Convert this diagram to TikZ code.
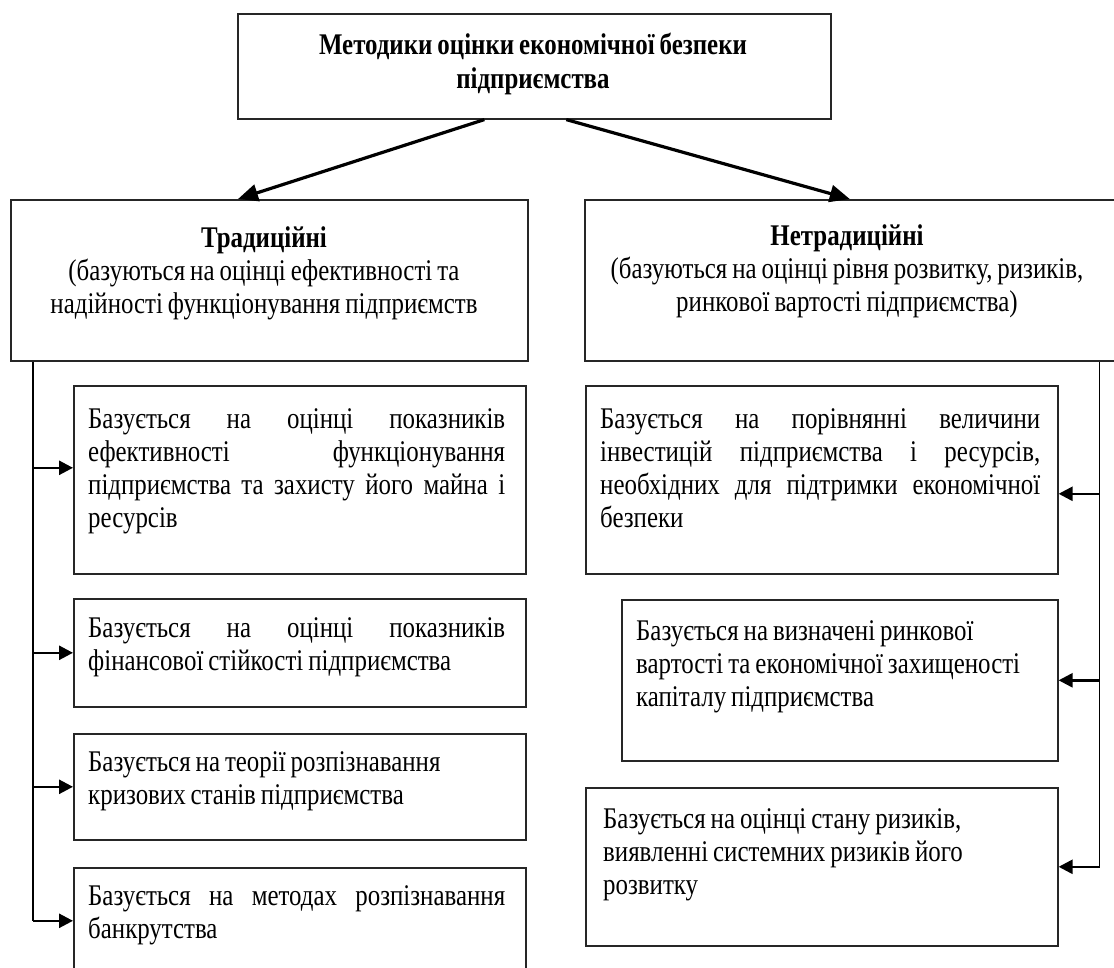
\documentclass[tikz,border=0pt]{standalone}
\usepackage{fontspec}
\setmainfont{Liberation Serif}[FakeStretch=0.83,WordSpace=0.8]
\usetikzlibrary{arrows.meta}
\begin{document}
\begin{tikzpicture}[x=1pt,y=-1pt,
  box/.style={draw=black!85, line width=1.6pt, inner sep=0pt, anchor=north west},
  txt/.style={inner sep=0pt, anchor=north west, align=flush left, font=\fontsize{30}{33}\selectfont},
  ctxt/.style={inner sep=0pt, anchor=north, align=center, font=\fontsize{30}{33}\selectfont},
  bigarrow/.style={line width=3.2pt, -{Triangle[length=20pt,width=17pt]}},
  conn/.style={line width=2.6pt, -{Triangle[length=14pt,width=14pt]}},
  vline/.style={line width=1.6pt},
]
\useasboundingbox (0,0) rectangle (1114,967);
% boxes
\node[box, minimum width=593pt, minimum height=105pt] (top) at (237,13) {};
\node[box, minimum width=517pt, minimum height=161pt] (lh) at (10,199) {};
\node[box, minimum width=532pt, minimum height=161pt] (rh) at (584,199) {};
\node[box, minimum width=452pt, minimum height=188pt] (l1) at (73,385) {};
\node[box, minimum width=452pt, minimum height=108pt] (l2) at (73,598) {};
\node[box, minimum width=452pt, minimum height=106pt] (l3) at (73,733) {};
\node[box, minimum width=452pt, minimum height=106pt] (l4) at (73,867) {};
\node[box, minimum width=472pt, minimum height=188pt] (r1) at (585,385) {};
\node[box, minimum width=436pt, minimum height=161pt] (r2) at (621,599) {};
\node[box, minimum width=472pt, minimum height=158pt] (r3) at (585,787) {};
% texts
\node[ctxt, font=\fontsize{30}{34}\selectfont\bfseries] (topt) at (533,30) {\strut Методики оцінки економічної безпеки\\підприємства};
\node[ctxt] (lht) at (264,224) {\strut\textbf{Традиційні}\\(базуються на оцінці ефективності та\\надійності функціонування підприємств};
\node[ctxt] (rht) at (847,222) {\strut\textbf{Нетрадиційні}\\(базуються на оцінці рівня розвитку, ризиків,\\ринкової вартості підприємства)};
\node[txt, text width=417pt] (l1t) at (88,405) {\strut Базується \hfill на \hfill оцінці \hfill показників\\ ефективності \hfill функціонування\\ підприємства \hfill та \hfill захисту \hfill його \hfill майна \hfill і\\ ресурсів};
\node[txt, text width=417pt] (l2t) at (88,614) {\strut Базується \hfill на \hfill оцінці \hfill показників\\ фінансової стійкості підприємства};
\node[txt, text width=417pt] (l3t) at (88,748) {\strut Базується на теорії розпізнавання\\ кризових станів підприємства};
\node[txt, text width=417pt] (l4t) at (88,882) {\strut Базується \hfill на \hfill методах \hfill розпізнавання\\ банкрутства};
\node[txt, text width=440pt] (r1t) at (600,405) {\strut Базується \hfill на \hfill порівнянні \hfill величини\\ інвестицій \hfill підприємства \hfill і \hfill ресурсів,\\ необхідних \hfill для \hfill підтримки \hfill економічної\\ безпеки};
\node[txt, text width=410pt] (r2t) at (636,617) {\strut Базується на визначені ринкової\\ вартості та економічної захищеності\\ капіталу підприємства};
\node[txt, text width=440pt] (r3t) at (603,805) {\strut Базується на оцінці стану ризиків,\\ виявленні системних ризиків його\\ розвитку};
% top arrows
\draw[bigarrow] ([xshift=-50pt]top.south) -- ([xshift=228pt]lh.north west);
\draw[bigarrow] ([xshift=32pt]top.south) -- ([xshift=-1pt]rh.north);
% left connectors
\coordinate (lvtop) at ([xshift=23pt]lh.south west);
\coordinate (l1in) at ([yshift=12pt]l1.west);
\coordinate (l2in) at (l2.west);
\coordinate (l3in) at (l3.west);
\coordinate (l4in) at (l4.west);
\draw[vline] (lvtop) -- (lvtop |- l4in);
\draw[conn] (lvtop |- l1in) -- (l1in);
\draw[conn] (lvtop |- l2in) -- (l2in);
\draw[conn] (lvtop |- l3in) -- (l3in);
\draw[conn] (lvtop |- l4in) -- (l4in);
% right connectors
\coordinate (rvtop) at ([xshift=-18pt]rh.south east);
\coordinate (r1in) at ([yshift=-14pt]r1.east);
\coordinate (r2in) at (r2.east);
\coordinate (r3in) at (r3.east);
\draw[vline] (rvtop) -- (rvtop |- r3in);
\draw[conn] (rvtop |- r1in) -- (r1in);
\draw[conn] (rvtop |- r2in) -- (r2in);
\draw[conn] (rvtop |- r3in) -- (r3in);
\end{tikzpicture}
\end{document}
